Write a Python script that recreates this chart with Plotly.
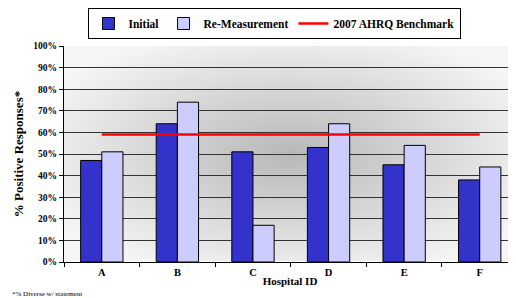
import base64
import plotly.graph_objects as go

hospitals = ["A", "B", "C", "D", "E", "F"]
initial = [47, 64, 51, 53, 45, 38]
remeasure = [51, 74, 17, 64, 54, 44]
benchmark = [59, 59, 59, 59, 59, 59]
y_ticks = [0, 10, 20, 30, 40, 50, 60, 70, 80, 90, 100]
y_labels = [f"{v}%" for v in y_ticks]

# page body has an 8px margin: figure drawn at (8, 8)
W, H = 508, 290
L, R, T, B = 56, 0, 38, 36
PW, PH = W - L - R, H - T - B
FONT = "'Liberation Serif', 'Times New Roman', Times, serif"

svg = f'''<svg xmlns="http://www.w3.org/2000/svg" width="{PW}" height="{PH}" viewBox="0 0 {PW} {PH}" preserveAspectRatio="none">
<defs><radialGradient id="g" cx="0.5" cy="0.5" r="0.6">
<stop offset="0" stop-color="#b8b8b8"/><stop offset="0.45" stop-color="#d3d3d3"/><stop offset="1" stop-color="#f5f5f5"/>
</radialGradient></defs><rect width="{PW}" height="{PH}" fill="url(#g)"/></svg>'''
src = "data:image/svg+xml;base64," + base64.b64encode(svg.encode()).decode()

fig = go.Figure()
fig.add_trace(go.Bar(x=hospitals, y=initial, name="Initial",
                     marker=dict(color="#3333CC", line=dict(color="#000000", width=1))))
fig.add_trace(go.Bar(x=hospitals, y=remeasure, name="Re-Measurement",
                     marker=dict(color="#CCCCFF", line=dict(color="#000000", width=1))))
fig.add_trace(go.Scatter(x=hospitals, y=benchmark, name="2007 AHRQ Benchmark", mode="lines",
                         line=dict(color="#FF0000", width=2.5)))

fig.update_layout(
    width=W, height=H,
    margin=dict(l=L, r=R, t=T, b=B, autoexpand=False),
    paper_bgcolor="white",
    plot_bgcolor="rgba(0,0,0,0)",
    barmode="group", bargap=0.44, bargroupgap=0,
    font=dict(family=FONT, color="#000000", size=10),
    showlegend=True,
    legend=dict(orientation="h", x=(266 - L) / PW, xanchor="center", y=1 + T / PH, yanchor="top",
                bordercolor="#000000", borderwidth=1, bgcolor="white",
                font=dict(family=FONT, size=11.5, color="#000000", weight="bold"),
                itemwidth=30, tracegroupgap=0),
    images=[dict(source=src, xref="paper", yref="paper", x=0, y=1, sizex=1, sizey=1,
                 sizing="stretch", layer="below")],
    xaxis=dict(range=[-0.5, 5.48], tickson="boundaries", ticks="outside", ticklen=4,
               tickcolor="#000000", showline=True, linecolor="#000000", linewidth=1,
               automargin=False,
               tickfont=dict(family=FONT, size=10.5, weight="bold"),
               title=dict(text="Hospital ID", font=dict(family=FONT, size=11, weight="bold"), standoff=0)),
    yaxis=dict(range=[0, 100], tickvals=y_ticks, ticktext=y_labels, ticks="outside", ticklen=4,
               tickcolor="#000000", showline=True, linecolor="#000000", linewidth=1,
               showgrid=True, gridcolor="#333333", gridwidth=1, automargin=False,
               tickfont=dict(family=FONT, size=9.5, weight="bold"),
               title=dict(text="% Positive Responses*", font=dict(family=FONT, size=13, weight="bold"), standoff=6)),
    annotations=[dict(text="*% Diverse w/ statement", xref="paper", yref="paper",
                      x=-(L - 2) / PW, xanchor="left", y=-(280 - (T + PH)) / PH, yanchor="top",
                      showarrow=False, font=dict(family=FONT, size=7))],
)

fig.write_html("out.html")
